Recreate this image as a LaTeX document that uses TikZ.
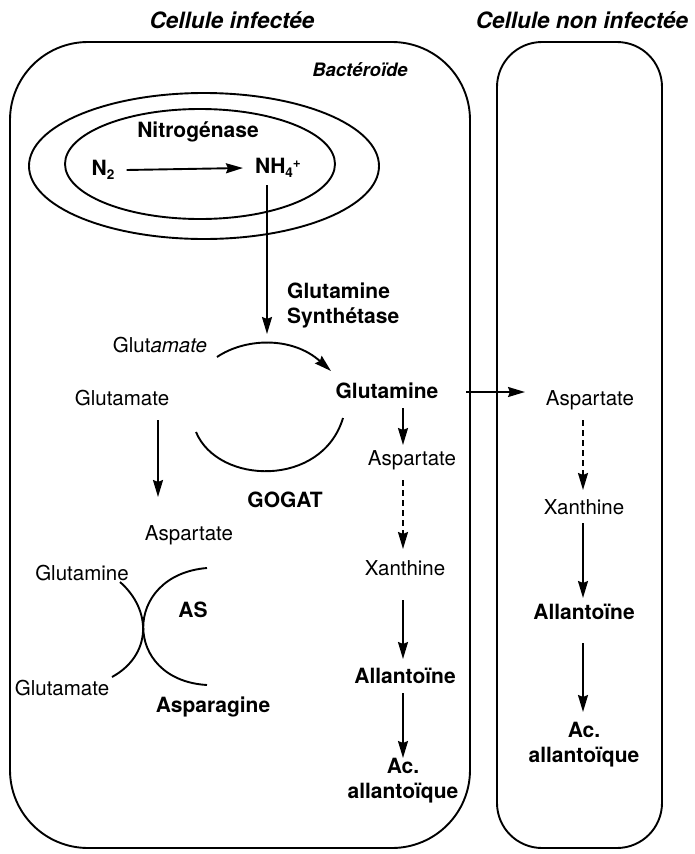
\documentclass[tikz,border=0pt]{standalone}
\usepackage{fontspec}
\setmainfont{TeX Gyre Heros}
\usetikzlibrary{arrows.meta}
\newcommand{\lowsub}[1]{\raisebox{-0.35ex}{\fontsize{13.5}{13.5}\selectfont #1}}
\newcommand{\highsup}[1]{\raisebox{0.55ex}{\fontsize{13.5}{13.5}\selectfont #1}}
\begin{document}
\begin{tikzpicture}[x=1pt,y=-1pt,
  lbl/.style={inner sep=0pt,font=\fontsize{20.5}{24}\selectfont},
  blbl/.style={inner sep=0pt,font=\fontsize{21}{25}\selectfont\bfseries},
  ttl/.style={inner sep=0pt,font=\fontsize{22.5}{26}\selectfont\bfseries\itshape},
  cellline/.style={line width=1.9pt},
  arr/.style={line width=1.9pt,-{Stealth[length=17pt,width=10pt,inset=2pt]}},
  dasharr/.style={arr,dash pattern=on 6pt off 4pt},
  plain/.style={line width=1.9pt}]
\useasboundingbox (0,0) rectangle (695,854);
% titles
\node[ttl] (t1) at (232,20) {Cellule infectée};
\node[ttl] (t2) at (582,20) {Cellule non infectée};
% cells
\draw[cellline,rounded corners=78pt] (10,42) rectangle (470,848);
\draw[cellline,rounded corners=45pt] (497,42) rectangle (662,848);
\node[inner sep=0pt,font=\fontsize{18.5}{22}\selectfont\bfseries\itshape] (bac) at (360,70) {Bactéroïde};
% ellipses
\draw[cellline] (204,166) ellipse [x radius=175, y radius=73];
\draw[cellline] (200,164) ellipse [x radius=135, y radius=55];
\node[blbl] (nit) at (198,132) {Nitrogénase};
\node[blbl] (n2) at (103,170) {N\lowsub{2}};
\node[blbl] (nh4) at (278,168) {NH\lowsub{4}\highsup{+}};
\draw[arr] ([xshift=12pt]n2.east) -- ([xshift=-12pt]nh4.west);
\coordinate (gstop) at (267,185);
\coordinate (gsin) at (267,334);
\draw[arr] (gstop) -- (gsin);
\node[blbl,align=left,anchor=west] (gs) at (287,305) {Glutamine\\Synthétase};
% GS / GOGAT cycle
\node[lbl] (glu1) at (160,345) {Glut\textit{amate}};
\node[lbl] (glu2) at (122,398) {Glutamate};
\node[blbl] (gln) at (387,391) {Glutamine};
\node[blbl] (gogat) at (285,500) {GOGAT};
\coordinate (gsa) at (217,357);
\coordinate (gsb) at (331,371);
\draw[arr] (gsa) .. controls (245,338) and (292,336) .. (gsb);
\coordinate (goa) at (196,432);
\coordinate (gob) at (343,418);
\draw[plain] (goa) .. controls (218,485) and (322,488) .. (gob);
% left column
\node[lbl] (asp1) at (189,535) {Aspartate};
\coordinate (g2a) at (158,420);
\coordinate (g2b) at (158,497);
\draw[arr] (g2a) -- (g2b);
\node[lbl] (gln2) at (82,573) {Glutamine};
\node[blbl] (as) at (193,610) {AS};
\node[lbl] (glu3) at (62,688) {Glutamate};
\node[blbl] (asn) at (213,707) {Asparagine};
\coordinate (la) at (120,582);
\coordinate (lb) at (112,677);
\draw[plain] (la) .. controls (152,610) and (152,655) .. (lb);
\coordinate (ra) at (207,568);
\coordinate (rb) at (207,685);
\draw[plain] (ra) .. controls (122,575) and (122,680) .. (rb);
% middle column
\node[lbl] (asp2) at (412,460) {Aspartate};
\node[lbl] (xan2) at (405,568) {Xanthine};
\node[blbl] (all2) at (405,676) {Allantoïne};
\node[blbl,align=center] (ac2) at (403,781) {Ac.\\allantoïque};
\draw[arr] (403,408) -- (403,445);
\draw[dasharr] (403,480) -- (403,549);
\draw[arr] (403,600) -- (403,659);
\draw[arr] (403,693) -- (403,758);
% transfer
\draw[arr] (466,392) -- (525,392);
% right column
\node[lbl] (asp3) at (590,400) {Aspartate};
\node[lbl] (xan3) at (584,507) {Xanthine};
\node[blbl] (all3) at (584,612) {Allantoïne};
\node[blbl,align=center] (ac3) at (584,745) {Ac.\\allantoïque};
\draw[dasharr] (583,420) -- (583,490);
\draw[arr] (583,523) -- (583,598);
\draw[arr] (583,643) -- (583,712);
\end{tikzpicture}
\end{document}
